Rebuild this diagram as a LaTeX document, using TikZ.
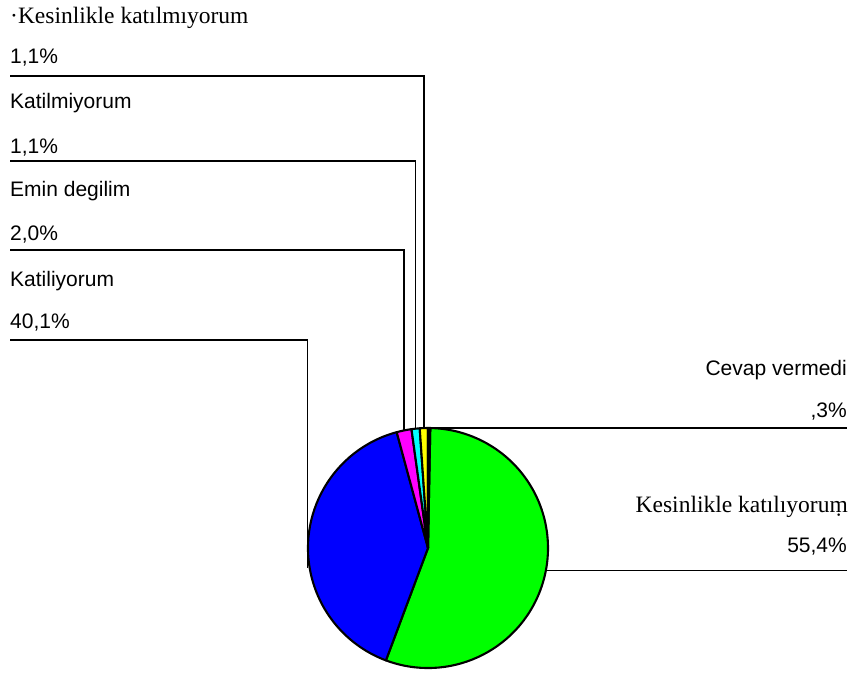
\documentclass[tikz,border=0pt]{standalone}
\usepackage{fontspec}
\setmainfont{Liberation Serif}
\newfontfamily\arialfont{Liberation Sans}
\definecolor{sliceGreen}{RGB}{0,255,0}
\definecolor{sliceBlue}{RGB}{0,0,255}
\definecolor{sliceMagenta}{RGB}{255,0,255}
\definecolor{sliceCyan}{RGB}{0,255,255}
\definecolor{sliceYellow}{RGB}{255,255,0}
\tikzset{
  serifLabel/.style={inner sep=0pt, font=\fontsize{23.5}{28}\selectfont},
  sansLabel/.style={inner sep=0pt, font=\arialfont\fontsize{21}{25}\selectfont},
  leader/.style={draw=black, line width=1.3pt},
  wedge/.style={draw=black, line width=2.1pt, line join=round},
}
\begin{document}
\begin{tikzpicture}[x=1pt, y=-1pt]
  \useasboundingbox (0,0) rectangle (856,672);

  % pie centre and radius
  \coordinate (c) at (428,548);
  \def\rad{120pt}

  % mid points of the wedges on the rim
  \coordinate (mYellow)  at ([shift={(91.98:\rad)}]c);
  \coordinate (mCyan)    at ([shift={(95.94:\rad)}]c);
  \coordinate (mMagenta) at ([shift={(101.52:\rad)}]c);
  \coordinate (mBlue)    at (307.5,568);
  \coordinate (mGreen)   at ([shift={(-10.8:\rad)}]c);
  \coordinate (mNone)    at ([shift={(89.46:\rad)}]c);

  % left-hand labels
  \node[serifLabel, anchor=base west] (t1) at (10,23) {·Kesinlikle katılmıyorum};
  \node[sansLabel, anchor=base west] (p1) at (10,63) {1,1\%};
  \node[sansLabel, anchor=base west] (t2) at (10,108) {Katilmiyorum};
  \node[sansLabel, anchor=base west] (p2) at (10,153) {1,1\%};
  \node[sansLabel, anchor=base west] (t3) at (10,196) {Emin degilim};
  \node[sansLabel, anchor=base west] (p3) at (10,240) {2,0\%};
  \node[sansLabel, anchor=base west] (t4) at (10,286) {Katiliyorum};
  \node[sansLabel, anchor=base west] (p4) at (10,328) {40,1\%};

  % right-hand labels
  \node[sansLabel, anchor=base east] (t5) at (847,375) {Cevap vermedi};
  \node[sansLabel, anchor=base east] (p5) at (847,417) {,3\%};
  \node[serifLabel, anchor=base east] (t6) at (848,512) {Kesinlikle katılıyoru\d{m}};
  \node[sansLabel, anchor=base east] (p6) at (847,552) {55,4\%};

  % free ends of the leader lines
  \coordinate (s1) at (10,76);
  \coordinate (s2) at (10,161);
  \coordinate (s3) at (10,250);
  \coordinate (s4) at (10,340);
  \coordinate (e5) at (847,428);
  \coordinate (e6) at (847,570.5);

  % leader lines
  \draw[leader] (s1) -| (mYellow);
  \draw[leader] (s2) -| (mCyan);
  \draw[leader] (s3) -| (mMagenta);
  \draw[leader] (s4) -| (mBlue);
  \draw[leader] (mNone) -- (mNone -| e5);
  \draw[leader] (mGreen) -- (mGreen -| e6);

  % pie wedges
  \filldraw[wedge, fill=sliceGreen]   (c) -- ++(-110.52:\rad) arc[start angle=-110.52, end angle=88.92, radius=\rad] -- cycle;
  \filldraw[wedge, fill=sliceBlue]    (c) -- ++(105.12:\rad) arc[start angle=105.12, end angle=249.48, radius=\rad] -- cycle;
  \filldraw[wedge, fill=sliceMagenta] (c) -- ++(97.92:\rad) arc[start angle=97.92, end angle=105.12, radius=\rad] -- cycle;
  \filldraw[wedge, fill=sliceCyan]    (c) -- ++(93.96:\rad) arc[start angle=93.96, end angle=97.92, radius=\rad] -- cycle;
  \filldraw[wedge, fill=sliceYellow]  (c) -- ++(90:\rad) arc[start angle=90, end angle=93.96, radius=\rad] -- cycle;
  \filldraw[wedge, fill=black]        (c) -- ++(88.92:\rad) arc[start angle=88.92, end angle=90, radius=\rad] -- cycle;
\end{tikzpicture}
\end{document}
